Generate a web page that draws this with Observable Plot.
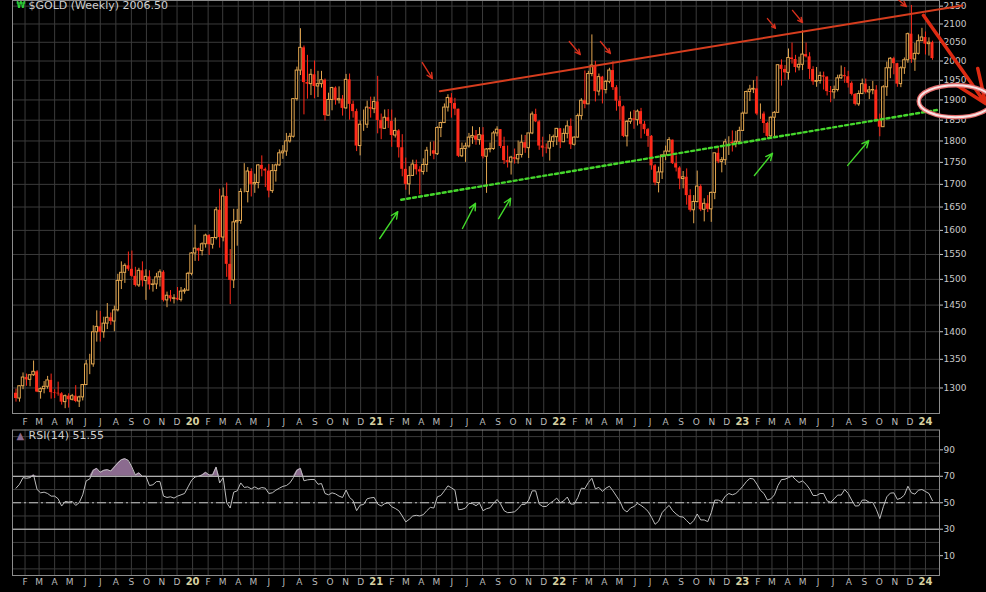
<!DOCTYPE html>
<html>
<head>
<meta charset="utf-8">
<script src="https://cdn.jsdelivr.net/npm/d3@7"></script>
<script src="https://cdn.jsdelivr.net/npm/@observablehq/plot@0.6"></script>
<style>
html, body { margin: 0; padding: 0; background: #000; }
#chart svg { display: block; }
</style>
</head>
<body>
<div id="chart"></div>
<script>
// ---------- DATA ----------
const firstWeekUTC = [2019, 0, 14]; // Monday of the first weekly bar
const titleText = "$GOLD (Weekly) 2006.50";
const rsiTitleText = "RSI(14) 51.55";

const opens = [
  1291,1282,1303,1318,1314,1322,1328,1293,1298,1302,1313,1292,1291,1290,1276,1286,1280,1286,1277,1284,1305,1341,1341,1399,1409,1399,1415,1426,1419,1440,1497,1513,1527,1520,1506,1488,1517,1497,1505,1489,1490,1504,1514,1459,1468,1462,1463,1460,1476,1478,1511,
  1552,1562,1557,1571,1589,1570,1584,1643,1585,1673,1530,1498,1617,1620,1683,1683,1729,1700,1703,1743,1734,1730,1685,1730,1743,1771,1775,1799,1810,1902,1975,2035,1944,1940,1964,1934,1940,1950,1861,1900,1930,1899,1902,1879,1951,1889,1871,1788,1839,1839,1881,1877,
  1895,1849,1829,1856,1847,1813,1824,1784,1734,1700,1719,1745,1733,1728,1744,1777,1777,1769,1831,1843,1881,1905,1891,1877,1764,1781,1787,1808,1812,1802,1814,1763,1780,1781,1818,1827,1787,1754,1750,1761,1757,1767,1796,1783,1818,1864,1846,1788,1783,1782,1798,1809,
  1829,1797,1817,1835,1791,1808,1860,1898,1889,1966,1988,1921,1958,1925,1946,1975,1931,1897,1883,1811,1846,1853,1850,1871,1840,1827,1811,1742,1703,1727,1766,1775,1802,1747,1737,1712,1716,1675,1643,1661,1695,1644,1657,1645,1681,1771,1751,1755,1797,1797,1793,1798,
  1824,1866,1920,1926,1928,1865,1865,1842,1811,1856,1868,1989,1978,1969,2008,2004,1983,1990,2017,2011,1978,1946,1948,1961,1958,1921,1919,1925,1955,1962,1959,1942,1914,1889,1915,1940,1919,1924,1925,1849,1833,1932,1981,2006,1993,1940,1981,2002,2072,2004,2019,2053,2063,2045,2049
];
const highs = [
  1298,1304,1326,1324,1323,1347,1330,1300,1311,1320,1324,1297,1310,1292,1288,1290,1289,1304,1286,1306,1348,1359,1411,1439,1438,1427,1453,1435,1448,1510,1535,1531,1555,1557,1524,1522,1535,1519,1517,1499,1512,1519,1517,1475,1478,1470,1484,1484,1482,1514,1554,
  1611,1563,1574,1592,1591,1584,1649,1689,1692,1703,1560,1645,1645,1690,1747,1738,1735,1723,1745,1765,1737,1745,1745,1746,1779,1789,1818,1818,1903,1984,2087,2040,2015,1978,2000,1973,1973,1953,1917,1932,1933,1933,1911,1965,1966,1897,1877,1848,1875,1897,1907,1907,
  1960,1865,1875,1876,1875,1855,1827,1815,1760,1740,1755,1755,1740,1758,1785,1797,1798,1834,1845,1890,1913,1916,1904,1877,1795,1795,1818,1834,1825,1832,1832,1782,1795,1823,1834,1827,1809,1788,1764,1781,1800,1814,1813,1818,1870,1877,1849,1809,1793,1815,1814,1830,
  1830,1829,1848,1853,1810,1865,1903,1974,1973,2070,1999,1966,1960,1949,1981,1998,1936,1909,1885,1849,1870,1874,1875,1879,1847,1830,1813,1745,1739,1767,1788,1808,1802,1765,1740,1729,1735,1688,1675,1730,1699,1668,1675,1683,1771,1787,1761,1804,1810,1824,1823,1833,
  1870,1922,1937,1949,1959,1890,1870,1845,1858,1871,1989,2003,1988,2032,2048,2015,2010,2081,2048,2022,1985,1983,1971,1971,1959,1934,1935,1963,1987,1983,1973,1946,1916,1923,1953,1953,1934,1947,1936,1865,1936,1997,2009,2010,1994,1985,2008,2075,2152,2047,2070,2088,2078,2062,2053
];
const lows = [
  1276,1276,1297,1303,1302,1320,1292,1281,1290,1298,1281,1282,1286,1271,1265,1266,1278,1275,1267,1278,1305,1323,1336,1381,1381,1388,1404,1412,1400,1437,1480,1492,1516,1504,1485,1484,1485,1459,1479,1475,1480,1485,1456,1445,1456,1452,1458,1456,1471,1477,1507,
  1536,1536,1547,1563,1548,1561,1580,1563,1576,1504,1451,1482,1567,1613,1681,1659,1672,1680,1690,1717,1693,1670,1680,1705,1741,1757,1764,1795,1807,1897,1962,1863,1902,1911,1903,1906,1930,1848,1861,1873,1887,1890,1860,1877,1850,1855,1775,1765,1823,1830,1855,1866,
  1817,1803,1829,1830,1785,1807,1760,1717,1687,1676,1719,1721,1677,1721,1727,1764,1756,1766,1808,1842,1870,1855,1861,1761,1761,1750,1783,1792,1790,1790,1758,1680,1772,1778,1810,1782,1745,1737,1721,1746,1746,1760,1771,1759,1815,1844,1778,1762,1770,1753,1785,1789,
  1782,1796,1805,1780,1788,1807,1850,1878,1889,1959,1895,1910,1890,1915,1941,1924,1872,1850,1808,1786,1840,1828,1836,1805,1816,1785,1732,1697,1681,1711,1754,1772,1745,1728,1688,1690,1654,1639,1614,1659,1640,1618,1638,1617,1666,1747,1726,1743,1766,1774,1784,1796,
  1824,1866,1896,1916,1861,1852,1818,1806,1804,1809,1868,1935,1950,1950,1992,1969,1974,1975,2008,1952,1937,1932,1940,1925,1910,1893,1902,1920,1952,1942,1930,1910,1885,1884,1913,1915,1901,1913,1846,1810,1833,1909,1954,1964,1932,1931,1965,1994,1994,1973,2016,2053,2016,2013,2002
];
const closes = [
  1282,1303,1318,1314,1322,1328,1293,1298,1302,1313,1292,1291,1290,1276,1286,1280,1286,1277,1284,1305,1341,1341,1399,1409,1399,1415,1426,1419,1440,1497,1513,1527,1520,1506,1488,1517,1497,1505,1489,1490,1504,1514,1459,1468,1462,1463,1460,1476,1478,1511,1552,
  1562,1557,1571,1589,1570,1584,1643,1585,1673,1530,1498,1617,1620,1683,1683,1729,1700,1703,1743,1734,1730,1685,1730,1743,1771,1775,1799,1810,1902,1975,2035,1944,1940,1964,1934,1940,1950,1861,1900,1930,1899,1902,1879,1951,1889,1871,1788,1839,1839,1881,1877,1895,
  1849,1829,1856,1847,1813,1824,1784,1734,1700,1719,1745,1733,1728,1744,1777,1777,1769,1831,1843,1881,1905,1891,1877,1764,1781,1787,1808,1812,1802,1814,1763,1780,1781,1818,1827,1787,1754,1750,1761,1757,1767,1796,1783,1818,1864,1846,1788,1783,1782,1798,1809,1829,
  1797,1817,1835,1791,1808,1860,1898,1889,1966,1988,1921,1958,1925,1946,1975,1931,1897,1883,1811,1846,1853,1850,1871,1840,1827,1811,1742,1703,1727,1766,1775,1802,1747,1737,1712,1716,1675,1643,1661,1695,1644,1657,1645,1681,1771,1751,1755,1797,1797,1793,1798,1824,
  1866,1920,1926,1928,1865,1865,1842,1811,1856,1868,1989,1978,1969,2008,2004,1983,1990,2017,2011,1978,1946,1948,1961,1958,1921,1919,1925,1955,1962,1959,1942,1914,1889,1915,1940,1919,1924,1925,1849,1833,1932,1981,2006,1993,1940,1981,2002,2072,2004,2019,2053,2063,2045,2049,2006.5
];
const rsi14 = [
  61,64,69,68.5,69,71,60,57.5,58,57,
  55,55,53,47.5,51,50.5,51,48,50,56,
  66.6,68,74.5,76,73,74.5,75,74,77,80,
  82.5,83.3,82,77,71,72.6,70,70,63,63.6,
  66,66,55,54,54.5,53.5,55,56,57,62,
  67,69.5,70,71,73,71,71,77,65,69,
  50,46,58,59,65,61.6,62,60.5,62,60.5,
  61.5,61,57,57.5,59.5,61,62.4,63,65,69,
  74.5,76,66.6,67.3,67.6,67.6,64,64.5,57,56,
  57.5,56.7,55,54,59.6,54,51.7,44,48.2,48.7,
  53,53.7,54,49,47.5,49.3,50,47,45.7,44,
  40,35.5,37.5,40,40.5,40,41,44,46.5,46,
  54.5,55.5,59,62.8,61.3,59.5,44.7,45,46,49.5,
  49.3,47.8,49.7,44,45.5,46.2,49.5,52.5,49,44,
  42.5,42.7,43.2,45.5,48.7,48.8,52,59,59,49,
  47.2,47.2,49.5,51.3,53.5,50,51.5,54.3,49,49,
  54,61,60.7,65.3,68.5,60.5,61.6,58.6,61,62.5,
  59,55,51,45,43,46,47.2,49.5,48,46,
  43.5,39,33.7,36,42.5,45.5,48,44,41.5,39.5,
  39.2,36.5,33.8,36.5,41.5,37,37,35.7,42.5,52,
  52,50.8,55,57,56,57,59.5,62.5,66,68.4,
  68,64,59.4,57,52,53,56,63,67.5,67.8,
  69,70.2,67.5,65.3,66.5,64,60.5,55.5,55.5,57,
  57,51.5,50.3,53,55.8,55.8,60,57,52,47.5,
  47.7,52,52,50.3,50.2,45,38,47,54.5,57.3,
  57.5,52.5,53.5,55.8,62.5,57.5,56.5,59.5,60,58.5,
  57,51.55
];

const priceTicks = [1300,1350,1400,1450,1500,1550,1600,1650,1700,1750,1800,1850,1900,1950,2000,2050,2100,2150];
const rsiLabelTicks = [10,30,50,70,90];
const rsiGridLevels = [0,10,20,30,40,50,60,70,80,90,100];
const rsiBands = [30,70];
const rsiMid = [50];
const monthLetters = ["J","F","M","A","M","J","J","A","S","O","N","D"];
const xStart = "2019-01-07", xEnd = "2024-01-29";
const priceDomain = [1257, 2166];
const rsiDomain = [-5, 105];

// hand-drawn annotations (data coordinates)
const resistanceLine = [{date: "2021-05-08", price: 1922}, {date: "2024-03-15", price: 2152}];
const supportLine = [{date: "2021-02-20", price: 1666}, {date: "2024-01-29", price: 1876}];
const bigArrow = [{from: "2023-12-28", p1: 2124, to: "2024-04-30", p2: 1891}];
const redArrows = [
  {from: "2021-04-03", p1: 1996, to: "2021-04-23", p2: 1954},
  {from: "2022-01-21", p1: 2052, to: "2022-02-12", p2: 2017},
  {from: "2022-03-24", p1: 2052, to: "2022-04-13", p2: 2020},
  {from: "2023-02-20", p1: 2115, to: "2023-03-08", p2: 2088},
  {from: "2023-04-11", p1: 2138, to: "2023-05-01", p2: 2104},
  {from: "2023-10-29", p1: 2180, to: "2023-11-24", p2: 2149}
];
const greenArrows = [
  {from: "2021-01-08", p1: 1583, to: "2021-02-13", p2: 1640},
  {from: "2021-06-22", p1: 1604, to: "2021-07-18", p2: 1658},
  {from: "2021-09-02", p1: 1625, to: "2021-09-26", p2: 1669},
  {from: "2023-01-25", p1: 1720, to: "2023-03-02", p2: 1771},
  {from: "2023-07-30", p1: 1743, to: "2023-09-10", p2: 1801}
];
const targetZone = [{date: "2024-03-01", price: 1897}];

// ---------- BUILD ----------
const RED = "#ff2a1a", ORANGE = "#e2a650", GRID = "#3b3b3b", FRAME = "#8c8c8c";
const weeks = closes.map((c, i) => ({
  date: new Date(Date.UTC(firstWeekUTC[0], firstWeekUTC[1], firstWeekUTC[2] + 7 * i)),
  o: opens[i], h: highs[i], l: lows[i], c, rsi: rsi14[i]
}));
const up = weeks.filter(d => d.c >= d.o);
const down = weeks.filter(d => d.c < d.o);
const toDate = s => new Date(s);
const xDomain = [toDate(xStart), toDate(xEnd)];
const months = d3.utcMonths(new Date("2019-02-01"), new Date("2024-01-02"));
const januaries = months.filter(d => d.getUTCMonth() === 0);
const otherMonths = months.filter(d => d.getUTCMonth() !== 0);
const pt = arr => arr.map(d => ({date: toDate(d.date), price: d.price}));
const arr = list => list.map(d => ({x1: toDate(d.from), y1: d.p1, x2: toDate(d.to), y2: d.p2}));

// wide ellipse symbol for the hand-drawn "target zone" ring
const ellipseSymbol = {
  draw(context, size) {
    const r = Math.sqrt(size / Math.PI), rx = r * 2.3, ry = r, k = 0.5523;
    context.moveTo(rx, 0);
    context.bezierCurveTo(rx, k * ry, k * rx, ry, 0, ry);
    context.bezierCurveTo(-k * rx, ry, -rx, k * ry, -rx, 0);
    context.bezierCurveTo(-rx, -k * ry, -k * rx, -ry, 0, -ry);
    context.bezierCurveTo(k * rx, -ry, rx, -k * ry, rx, 0);
    context.closePath();
  }
};

const common = {
  width: 986, marginLeft: 12, marginRight: 47,
  style: {background: "#000", color: "#c9c9c9", fontFamily: "DejaVu Sans, sans-serif", fontSize: "9px", overflow: "visible"}
};
const monthAxes = pad => [
  Plot.axisX(otherMonths, {anchor: "bottom", label: null, tickSize: 0, tickPadding: pad,
    tickFormat: d => monthLetters[d.getUTCMonth()], fill: "#b9b9b9", fontSize: 9}),
  Plot.axisX(januaries, {anchor: "bottom", label: null, tickSize: 0, tickPadding: pad - 1,
    tickFormat: d => String(d.getUTCFullYear()).slice(2), fill: "#d6d0a0", fontWeight: "bold", fontSize: 10})
];

const main = Plot.plot({
  ...common,
  height: 429, marginTop: 0, marginBottom: 16,
  x: {type: "utc", domain: xDomain, label: null},
  y: {type: "log", domain: priceDomain, label: null},
  marks: [
    Plot.gridY(priceTicks, {stroke: GRID, strokeOpacity: 1}),
    Plot.gridX(months, {stroke: GRID, strokeOpacity: 1}),
    Plot.frame({stroke: FRAME}),
    Plot.axisY(priceTicks, {anchor: "right", label: null, tickSize: 3, tickPadding: 1,
      tickFormat: d => String(d), color: "#c9c9c9", fontSize: 9}),
    ...monthAxes(5),
    Plot.ruleX(down, {x: "date", y1: "l", y2: "h", stroke: RED, strokeWidth: 1}),
    Plot.ruleX(up, {x: "date", y1: "l", y2: "h", stroke: ORANGE, strokeWidth: 1}),
    Plot.rect(down, {x1: d => d3.utcHour.offset(d.date, -72), x2: d => d3.utcHour.offset(d.date, 72),
      y1: "o", y2: "c", fill: RED}),
    Plot.rect(up, {x1: d => d3.utcHour.offset(d.date, -60), x2: d => d3.utcHour.offset(d.date, 60),
      y1: "o", y2: "c", fill: "#000", stroke: ORANGE, strokeWidth: 1}),
    Plot.line(pt(resistanceLine), {x: "date", y: "price", stroke: "#d63d1e", strokeWidth: 2}),
    Plot.line(pt(supportLine), {x: "date", y: "price", stroke: "#45d62c", strokeWidth: 2.4, strokeDasharray: "3 3"}),
    Plot.arrow(arr(redArrows), {x1: "x1", y1: "y1", x2: "x2", y2: "y2", stroke: "#d8301c", strokeWidth: 1.4, headLength: 7, headAngle: 50}),
    Plot.arrow(arr(greenArrows), {x1: "x1", y1: "y1", x2: "x2", y2: "y2", stroke: "#42d82a", strokeWidth: 1.4, headLength: 8, headAngle: 50}),
    Plot.arrow(arr(bigArrow), {x1: "x1", y1: "y1", x2: "x2", y2: "y2", stroke: "#dd2a12", strokeWidth: 3.5, headLength: 16, headAngle: 45}),
    Plot.dot(pt(targetZone), {x: "date", y: "price", r: 16, symbol: ellipseSymbol, stroke: "#e26a6a", strokeWidth: 4.5, fill: "none"}),
    Plot.dot(pt(targetZone), {x: "date", y: "price", r: 16, symbol: ellipseSymbol, stroke: "#f8e4e4", strokeWidth: 2, fill: "none"}),
    Plot.text(["₩"], {text: d => d, frameAnchor: "top-left", dx: 4, dy: 2, lineAnchor: "top", textAnchor: "start",
      fill: "#2fcf3a", fontWeight: "bold", fontSize: 8}),
    Plot.text([titleText], {text: d => d, frameAnchor: "top-left", dx: 16, dy: 1, lineAnchor: "top", textAnchor: "start",
      fill: "#cfcfcf", fontSize: 11})
  ]
});

const rsiPlot = Plot.plot({
  ...common,
  height: 163, marginTop: 0.5, marginBottom: 17,
  x: {type: "utc", domain: xDomain, label: null},
  y: {domain: rsiDomain, label: null},
  marks: [
    Plot.gridY(rsiGridLevels, {stroke: GRID, strokeOpacity: 1}),
    Plot.gridX(months, {stroke: GRID, strokeOpacity: 1}),
    Plot.areaY(weeks, {x: "date", y1: 70, y2: d => Math.max(70, d.rsi), fill: "#8b6b8f"}),
    Plot.ruleY(rsiBands, {stroke: "#d2d2d2", strokeWidth: 1}),
    Plot.ruleY(rsiMid, {stroke: "#c4c4c4", strokeWidth: 1, strokeDasharray: "9 3 2 3"}),
    Plot.line(weeks, {x: "date", y: "rsi", stroke: "#bdbdbd", strokeWidth: 1}),
    Plot.frame({stroke: FRAME}),
    Plot.axisY(rsiLabelTicks, {anchor: "right", label: null, tickSize: 3, tickPadding: 1,
      tickFormat: d => String(d), color: "#c9c9c9", fontSize: 9}),
    ...monthAxes(3),
    Plot.text(["▲"], {text: d => d, frameAnchor: "top-left", dx: 4, dy: 2, lineAnchor: "top", textAnchor: "start",
      fill: "#8b6b8f", fontSize: 10}),
    Plot.text([rsiTitleText], {text: d => d, frameAnchor: "top-left", dx: 16, dy: 1, lineAnchor: "top", textAnchor: "start",
      fill: "#cfcfcf", fontSize: 11})
  ]
});

document.getElementById("chart").append(main, rsiPlot);
</script>
</body>
</html>
